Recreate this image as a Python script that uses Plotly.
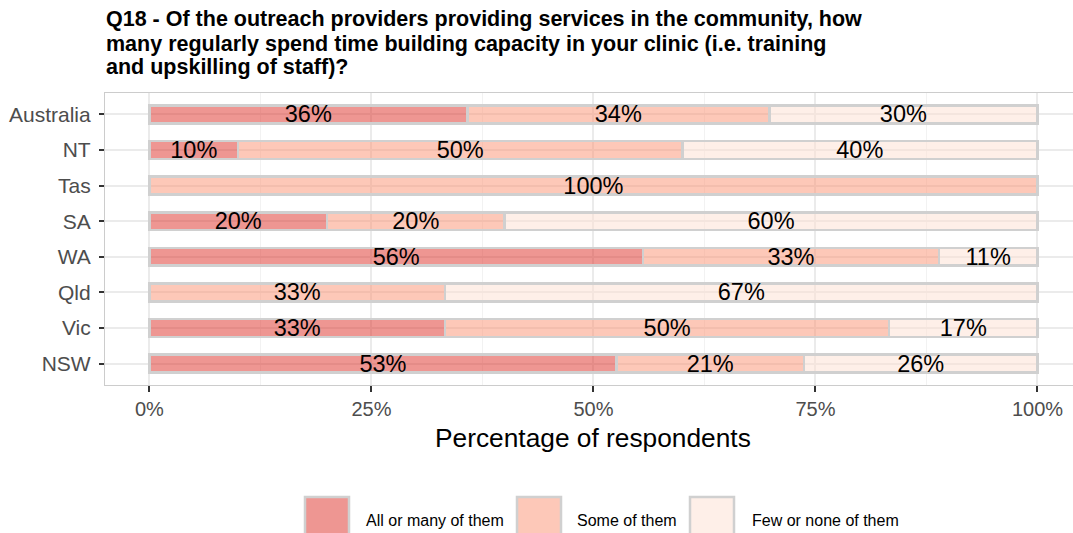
import plotly.graph_objects as go

# Regions, listed bottom to top as they appear on the y axis
regions = ["NSW", "Vic", "Qld", "WA", "SA", "Tas", "NT", "Australia"]

# Share of respondents (%) per answer
all_or_many = [52.6, 33.3, 0, 55.6, 20, 0, 10, 35.8]
some_of_them = [21.1, 50.0, 33.3, 33.3, 20, 100, 50, 34.0]
few_or_none = [26.3, 16.7, 66.7, 11.1, 60, 0, 40, 30.2]

series_names = ["All or many of them", "Some of them", "Few or none of them"]
series_values = [all_or_many, some_of_them, few_or_none]
series_colors = ["rgba(222,45,38,0.5)", "rgba(252,146,114,0.5)", "rgba(254,224,210,0.5)"]

x_ticks = [0, 25, 50, 75, 100]
x_tick_labels = ["0%", "25%", "50%", "75%", "100%"]

title_lines = [
    "Q18 - Of the outreach providers providing services in the community, how",
    "many regularly spend time building capacity in your clinic (i.e. training",
    "and upskilling of staff)?",
]

W, H = 1073, 533
L, R, T, B = 105, 0, 93, 148
PW, PH = W - L - R, H - T - B


def px_x(px):
    return (px - L) / PW


def px_y(py):
    return (H - B - py) / PH


BASE_FONT = "Liberation Sans, Arial, sans-serif"
BORDER = "#D0D0D0"

fig = go.Figure()
for name, vals, col in zip(series_names, series_values, series_colors):
    fig.add_trace(go.Bar(
        y=regions,
        x=[v if v > 0 else None for v in vals],
        name=name,
        orientation="h",
        width=0.5,
        marker=dict(color=col, line=dict(color=BORDER, width=2.5)),
        text=[f"{round(v)}%" if v > 0 else "" for v in vals],
        textposition="inside",
        insidetextanchor="middle",
        textangle=0,
        constraintext="none",
        textfont=dict(family=BASE_FONT, size=23.5, color="black"),
        showlegend=False,
        hoverinfo="skip",
    ))

fig.update_layout(
    width=W, height=H,
    margin=dict(l=L, r=R, t=T, b=B, autoexpand=False),
    barmode="stack",
    plot_bgcolor="white",
    paper_bgcolor="white",
    font=dict(family=BASE_FONT),
)

fig.update_xaxes(
    range=[-5, 104],
    tickvals=x_ticks,
    ticktext=x_tick_labels,
    tickfont=dict(size=20, color="#4D4D4D"),
    ticks="outside", ticklen=6, tickwidth=2, tickcolor="#333333",
    showgrid=True, gridcolor="#EBEBEB", gridwidth=1.6,
    minor=dict(dtick=12.5, tick0=0, showgrid=True, gridcolor="#F2F2F2", gridwidth=1),
    showline=True, linecolor="#CCCCCC", linewidth=1.2, mirror=True,
    zeroline=False,
)
fig.update_yaxes(
    type="category",
    range=[-0.6, 7.6],
    tickfont=dict(size=21, color="#4D4D4D"),
    ticks="outside", ticklen=5, tickwidth=2, tickcolor="#333333",
    ticklabelstandoff=4,
    showgrid=True, gridcolor="#EBEBEB", gridwidth=1.6,
    showline=True, linecolor="#CCCCCC", linewidth=1.2, mirror=True,
)

# Title, one annotation per line
for line, cy in zip(title_lines, [19, 44, 67]):
    fig.add_annotation(
        text=f"<b>{line}</b>", xref="paper", yref="paper",
        x=px_x(104), y=px_y(cy), xanchor="left", yanchor="middle",
        showarrow=False,
        font=dict(family="Liberation Sans Narrow, Arial Narrow, sans-serif", size=21.5, color="black"),
    )

# X axis title
fig.add_annotation(
    text="Percentage of respondents", xref="paper", yref="paper",
    x=px_x(593), y=px_y(438), xanchor="center", yanchor="middle",
    showarrow=False, font=dict(family=BASE_FONT, size=26.3, color="black"),
)

# Legend: keys and labels below the panel
legend_key_left = [305, 517, 690]
legend_text_left = [364, 575, 750]
for name, col, kx, tx in zip(series_names, series_colors, legend_key_left, legend_text_left):
    fig.add_shape(
        type="rect", xref="paper", yref="paper",
        x0=px_x(kx), x1=px_x(kx + 44), y0=px_y(497), y1=px_y(541),
        fillcolor=col, line=dict(color=BORDER, width=2.5), layer="above",
    )
    fig.add_annotation(
        text=name, xref="paper", yref="paper",
        x=px_x(tx), y=px_y(520), xanchor="left", yanchor="middle",
        showarrow=False, font=dict(family=BASE_FONT, size=16, color="black"),
    )

fig.write_html("out.html")
